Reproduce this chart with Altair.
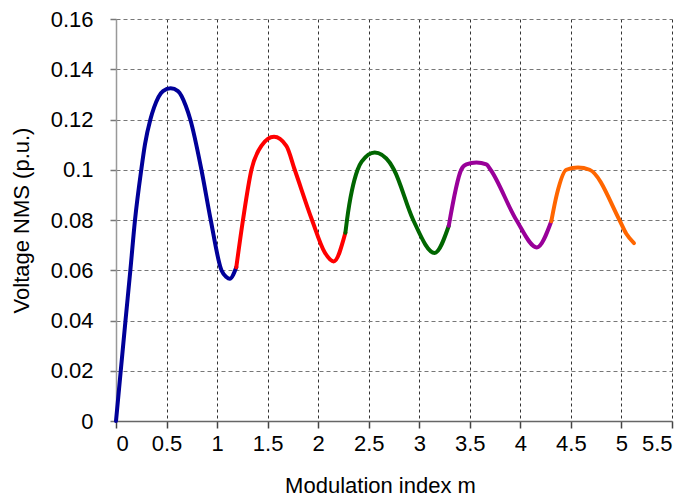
import altair as alt
import pandas as pd

# Segments of the NMS voltage curve (x = modulation index m, y = voltage p.u.)
blue_x = [0, 0.047, 0.094, 0.142, 0.188, 0.25, 0.287, 0.34, 0.376, 0.465, 0.541, 0.613, 0.69, 0.735, 0.845, 0.937, 1.043, 1.092, 1.125, 1.19]
blue_y = [0, 0.02, 0.04, 0.06, 0.08, 0.10, 0.1102, 0.12, 0.1247, 0.1313, 0.1324, 0.1313, 0.1255, 0.12, 0.10, 0.08, 0.06, 0.0573, 0.0566, 0.0612]

red_x = [1.19, 1.256, 1.34, 1.438, 1.563, 1.685, 1.768, 1.939, 2.064, 2.153, 2.269]
red_y = [0.0612, 0.08, 0.10, 0.1095, 0.1131, 0.1095, 0.10, 0.08, 0.0672, 0.0635, 0.0749]

green_x = [2.269, 2.285, 2.39, 2.43, 2.559, 2.707, 2.75, 2.94, 3.152, 3.292]
green_y = [0.0749, 0.08, 0.10, 0.1032, 0.1069, 0.1029, 0.10, 0.08, 0.0669, 0.0777]

purple_x = [3.292, 3.415, 3.466, 3.565, 3.664, 3.705, 3.96, 4.163, 4.306]
purple_y = [0.0777, 0.10, 0.1021, 0.1029, 0.1021, 0.10, 0.08, 0.0691, 0.0795]

orange_x = [4.306, 4.362, 4.455, 4.57, 4.685, 4.98, 5.048, 5.124]
orange_y = [0.0795, 0.0904, 0.10, 0.1009, 0.10, 0.08, 0.0745, 0.0708]

segments = ["s1", "s2", "s3", "s4", "s5"]
colors = ["#000099", "#FF0000", "#006600", "#990099", "#FF6600"]

x_ticks = [0, 0.5, 1, 1.5, 2, 2.5, 3, 3.5, 4, 4.5, 5, 5.5]
y_ticks = [0, 0.02, 0.04, 0.06, 0.08, 0.10, 0.12, 0.14, 0.16]

rows = []
for seg, xs, ys in zip(segments,
                       [blue_x, red_x, green_x, purple_x, orange_x],
                       [blue_y, red_y, green_y, purple_y, orange_y]):
    for i, (xv, yv) in enumerate(zip(xs, ys)):
        rows.append({"seg": seg, "m": xv, "v": yv, "i": i})
df = pd.DataFrame(rows)

FONT = "Liberation Sans"

chart = alt.Chart(df).mark_line(
    strokeWidth=4, interpolate="monotone", strokeCap="round"
).encode(
    x=alt.X("m:Q", title="Modulation index m",
            scale=alt.Scale(domain=[0, 5.5], nice=False),
            axis=alt.Axis(values=x_ticks, labelExpr="format(datum.value, '~g')",
                          gridColor="#333333", gridDash=[3, 3], gridOpacity=1,
                          tickSize=7, labelPadding=5, titlePadding=21,
                          titleX=264, titleAnchor="start", titleAlign="center",
                          domainColor="#666666", tickColor="#444444")),
    y=alt.Y("v:Q", title="Voltage NMS (p.u.)",
            scale=alt.Scale(domain=[0, 0.16], nice=False),
            axis=alt.Axis(values=y_ticks, labelExpr="format(datum.value, '~g')",
                          gridColor="#777777", gridDash=[4, 3], gridOpacity=1,
                          tickSize=6, labelPadding=17, titlePadding=17,
                          domainColor="#999999", tickColor="#777777")),
    color=alt.Color("seg:N", scale=alt.Scale(domain=segments, range=colors), legend=None),
    order="i:Q",
).properties(
    width=556, height=402,
    autosize=alt.AutoSizeParams(type="none"),
    padding={"left": 108, "top": 11, "right": 12, "bottom": 80},
).configure_axis(
    labelFont=FONT, titleFont=FONT, labelFontSize=22, titleFontSize=22,
    labelColor="#000000", titleColor="#000000", titleFontWeight="normal",
    domainWidth=1.5, tickWidth=1.5, gridWidth=1,
).configure_view(stroke=None)

chart.save("out.html", embed_options={"renderer": "svg", "actions": False})
